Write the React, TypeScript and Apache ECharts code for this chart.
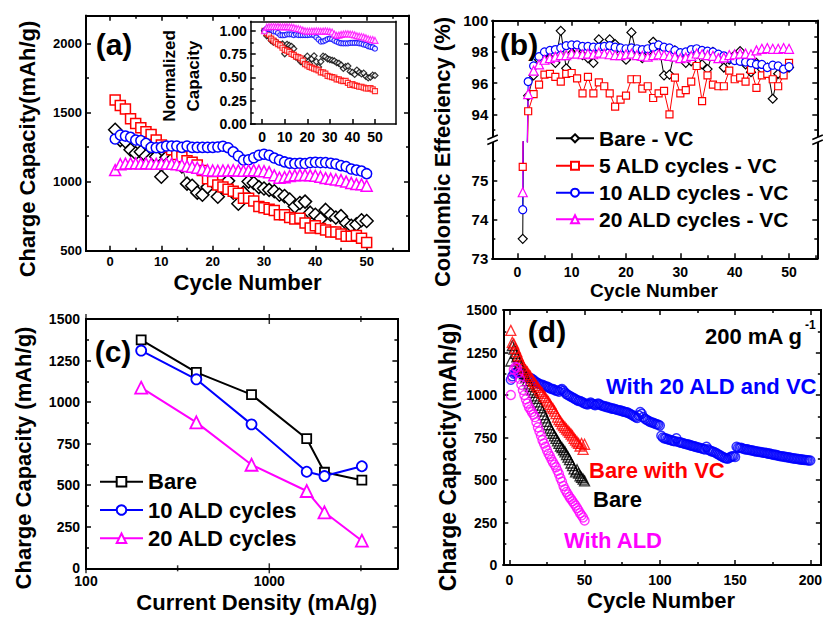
import React, { useEffect, useRef } from 'react';
import * as echarts from 'echarts';

const FONT = '"Liberation Sans", Arial, Helvetica, sans-serif';
const BLACK = '#000000';
const RED = '#ff0000';
const BLUE = '#0000ff';
const MAGENTA = '#ff00ff';

// ---------- Panel (a): charge capacity vs cycle ----------
const aCycles = Array.from({ length: 50 }, (_, i) => i + 1);
const aBare = [1375, 1300, 1290, 1230, 1205, 1215, 1185, 1165, 1180, 1035, 1175, 1160, 1145, 1110, 985, 970, 920, 905, 960, 1000, 890, 960, 1005, 920, 840, 920, 1000, 990, 960, 950, 940, 930, 905, 895, 870, 820, 845, 855, 775, 760, 730, 795, 760, 740, 750, 700, 680, 690, 720, 715];
const aALD5 = [1590, 1550, 1525, 1455, 1420, 1390, 1360, 1340, 1300, 1265, 1250, 1230, 1195, 1180, 1150, 1140, 1120, 1080, 1020, 1000, 975, 960, 945, 930, 915, 880, 880, 860, 820, 810, 800, 790, 760, 760, 740, 730, 735, 700, 665, 680, 660, 650, 635, 635, 620, 605, 605, 610, 590, 560];
const aALD10 = [1308, 1336, 1329, 1320, 1300, 1296, 1276, 1247, 1245, 1247, 1257, 1257, 1257, 1247, 1257, 1247, 1247, 1247, 1247, 1247, 1250, 1255, 1245, 1215, 1185, 1155, 1158, 1172, 1190, 1198, 1190, 1170, 1155, 1142, 1133, 1130, 1132, 1130, 1137, 1139, 1137, 1137, 1132, 1127, 1115, 1108, 1091, 1083, 1076, 1057];
const aALD20 = [1083, 1125, 1130, 1132, 1132, 1130, 1132, 1130, 1128, 1130, 1130, 1128, 1125, 1120, 1112, 1108, 1100, 1090, 1082, 1080, 1078, 1080, 1080, 1082, 1080, 1078, 1080, 1082, 1078, 1075, 1068, 1045, 1028, 1032, 1040, 1045, 1048, 1048, 1045, 1042, 1035, 1025, 1020, 1015, 1010, 1000, 990, 982, 980, 970];

// ---------- Panel (b): coulombic efficiency ----------
const bCycles = Array.from({ length: 50 }, (_, i) => i + 1);
const bBare = [73.5, 95.2, 96.5, 97.5, 97.9, 97.6, 97.3, 99.35, 96.95, 97.9, 98.2, 97.8, 97.6, 97.3, 98.8, 98.3, 98.8, 98.5, 97.9, 97.5, 99.25, 97.8, 97.6, 98.0, 98.65, 98.4, 96.5, 96.55, 98.1, 97.8, 97.3, 97.4, 97.9, 97.2, 96.9, 98.0, 97.7, 97.0, 97.5, 97.8, 98.05, 97.2, 96.7, 97.3, 96.9, 97.0, 95.0, 96.6, 96.8, 97.0];
const bALD5 = [75.35, 94.2, 95.3, 95.9, 96.55, 96.6, 96.4, 96.1, 96.6, 96.65, 96.3, 95.35, 96.4, 95.35, 96.05, 95.8, 95.35, 94.5, 94.95, 95.2, 96.25, 96.25, 95.65, 95.8, 95.05, 95.35, 95.5, 94.0, 96.35, 95.35, 95.55, 96.1, 97.1, 94.85, 96.5, 95.9, 95.8, 95.8, 96.8, 96.25, 96.35, 96.1, 96.85, 95.7, 96.5, 96.6, 96.25, 95.8, 96.5, 97.3];
const bALD10 = [74.25, 96.1, 97.1, 97.7, 98.0, 98.1, 98.15, 98.25, 98.4, 98.45, 98.45, 98.35, 98.35, 98.3, 98.3, 98.35, 98.4, 98.3, 98.25, 98.2, 98.25, 98.2, 98.15, 98.2, 98.3, 98.45, 98.3, 98.25, 98.1, 97.95, 98.0, 98.15, 98.2, 98.1, 98.05, 98.0, 97.85, 97.75, 97.6, 97.45, 97.4, 97.35, 97.3, 97.2, 97.2, 97.0, 97.15, 97.1, 96.9, 97.05];
const bALD20 = [74.7, 95.3, 96.8, 97.2, 97.5, 97.6, 97.7, 97.8, 97.8, 97.9, 97.9, 97.85, 97.9, 97.85, 97.95, 97.9, 97.85, 97.8, 97.8, 97.85, 97.9, 97.8, 97.75, 97.7, 97.8, 97.85, 97.8, 97.75, 97.7, 97.6, 97.65, 97.75, 97.9, 97.85, 97.8, 97.75, 97.6, 97.65, 97.8, 97.85, 97.9, 97.9, 97.85, 98.1, 98.2, 98.25, 98.2, 98.2, 98.25, 98.2];

// ---------- Panel (c): rate capability ----------
const cDensity = [200, 400, 800, 1600, 2000, 3200];
const cBare = [1374, 1179, 1045, 780, 578, 530];
const cALD10 = [1310, 1137, 866, 581, 555, 614];
const cALD20 = [1087, 878, 623, 465, 337, 166];
// decade tick labels of the log axis and half-decade minor ticks
const cDecadeLabels = ['100', '1000'];
const cDecades = [100, 1000];
const cHalfDecades = [316.2, 3162];

// ---------- Panel (d): long cycling at 200 mA/g ----------
const dCycles50 = Array.from({ length: 50 }, (_, i) => i + 1);
const dCycles200 = Array.from({ length: 200 }, (_, i) => i + 1);
const dBare = [1200, 1290, 1270, 1245, 1225, 1205, 1185, 1165, 1145, 1125, 1105, 1085, 1065, 1050, 1030, 1015, 995, 980, 960, 940, 925, 905, 885, 865, 845, 825, 805, 790, 775, 760, 745, 730, 715, 700, 690, 678, 666, 650, 635, 620, 600, 585, 565, 548, 560, 540, 525, 515, 505, 495];
const dBareVC = [1380, 1310, 1300, 1275, 1255, 1230, 1210, 1190, 1170, 1155, 1145, 1135, 1120, 1110, 1095, 1080, 1070, 1055, 1045, 1030, 1020, 1010, 995, 985, 970, 960, 945, 930, 920, 905, 890, 870, 855, 845, 830, 820, 810, 800, 790, 780, 770, 760, 745, 735, 725, 715, 700, 715, 680, 710];
const dALD = [1000, 1100, 1150, 1165, 1160, 1130, 1095, 1060, 1030, 1000, 975, 950, 930, 915, 900, 885, 870, 840, 810, 785, 760, 735, 715, 695, 675, 655, 640, 620, 605, 590, 575, 555, 535, 510, 490, 465, 445, 430, 415, 400, 388, 375, 362, 350, 335, 320, 305, 292, 280, 262];
const dALDVC = [
  1090, 1110, 1125, 1130, 1135, 1140, 1130, 1125, 1120, 1115,
  1110, 1105, 1100, 1100, 1095, 1090, 1080, 1075, 1070, 1065,
  1060, 1060, 1055, 1050, 1050, 1045, 1040, 1035, 1035, 1030,
  1025, 1025, 1020, 1030, 1035, 1025, 1015, 1005, 1000, 995,
  990, 985, 980, 975, 970, 965, 965, 960, 955, 950,
  948, 945, 950, 955, 950, 945, 940, 945, 950, 945,
  940, 935, 935, 930, 930, 925, 925, 920, 920, 918,
  915, 912, 910, 908, 905, 902, 900, 898, 895, 890,
  885, 880, 875, 870, 865, 880, 900, 890, 870, 860,
  855, 850, 845, 840, 838, 835, 830, 828, 825, 820,
  760, 750, 745, 745, 740, 738, 735, 732, 730, 728,
  745, 725, 722, 720, 718, 715, 712, 710, 708, 705,
  702, 700, 698, 695, 693, 690, 688, 685, 682, 680,
  695, 680, 675, 670, 668, 665, 660, 655, 650, 645,
  640, 635, 630, 628, 625, 630, 635, 640, 640, 636,
  695, 690, 688, 690, 685, 682, 680, 680, 678, 675,
  675, 672, 670, 668, 668, 665, 665, 662, 660, 660,
  658, 655, 655, 652, 650, 648, 648, 645, 643, 640,
  640, 638, 636, 635, 633, 632, 630, 628, 627, 625,
  625, 623, 622, 620, 620, 618, 618, 616, 615, 615,
];

// tick sets
const ticks10 = [0, 10, 20, 30, 40, 50];
const ticks5 = [5, 15, 25, 35, 45, 55];
const cap250 = [0, 250, 500, 750, 1000, 1250, 1500];
const cap125 = [125, 375, 625, 875, 1125, 1375];

type SideSpec = {
  grid: number;
  pos: 'top' | 'bottom' | 'left' | 'right';
  min: number;
  max: number;
  type?: 'value' | 'log';
  majors?: number[];
  minors?: number[];
  labels?: number[];
  fmt?: (v: number) => string;
  fontSize?: number;
  margin?: number;
  line?: boolean;
  lineWidth?: number;
};

const txt = (text: string, x: number, y: number, size: number, opt: { rot?: boolean; fill?: string; align?: string; top?: boolean } = {}) => ({
  type: 'text',
  x,
  y,
  rotation: opt.rot ? Math.PI / 2 : 0,
  z: 100,
  zlevel: opt.top ? 2 : 0,
  silent: true,
  style: {
    text,
    fill: opt.fill || BLACK,
    fontSize: size,
    fontWeight: 'bold',
    fontFamily: FONT,
    font: `bold ${size}px ${FONT}`,
    textAlign: opt.align || 'center',
    align: opt.align || 'center',
    textVerticalAlign: 'middle',
    verticalAlign: 'middle',
  },
});

function buildOption() {
  const xAxes: any[] = [];
  const yAxes: any[] = [];
  const tickStyle = { color: BLACK, width: 1.5 };
  const plain = (v: number) => String(v);
  const side = (s: SideSpec) => {
    const isX = s.pos === 'top' || s.pos === 'bottom';
    const list = isX ? xAxes : yAxes;
    const base: any = {
      type: s.type || 'value',
      gridIndex: s.grid,
      position: s.pos,
      min: s.min,
      max: s.max,
      splitLine: { show: false },
      silent: true,
    };
    if (s.type === 'log') base.logBase = 10;
    const idx = list.length;
    const main: any = {
      ...base,
      axisLine: { show: s.line !== false, onZero: false, lineStyle: { color: BLACK, width: s.lineWidth ?? 2, cap: 'square' } },
      axisTick: { show: false },
      axisLabel: { show: false },
    };
    if (s.majors) {
      main.axisTick = { show: true, inside: true, length: 5, customValues: s.majors, lineStyle: tickStyle };
    }
    if (s.labels) {
      main.axisLabel = {
        show: true,
        margin: s.margin ?? 5,
        fontSize: s.fontSize ?? 14,
        fontWeight: 'bold',
        fontFamily: FONT,
        color: BLACK,
        formatter: s.fmt || plain,
        customValues: s.labels,
      };
    }
    list.push(main);
    if (s.minors) {
      list.push({
        ...base,
        axisLine: { show: false, onZero: false },
        axisLabel: { show: false },
        axisTick: { show: true, inside: true, length: 3, customValues: s.minors, lineStyle: tickStyle },
      });
    }
    return idx;
  };

  // (a) main
  const aX = side({ grid: 0, pos: 'bottom', min: -4.68, max: 58.25, majors: ticks10, minors: ticks5, labels: ticks10, fontSize: 13, margin: 4 });
  side({ grid: 0, pos: 'top', min: -4.68, max: 58.25, majors: ticks10, minors: ticks5 });
  const aY = side({ grid: 0, pos: 'left', min: 500, max: 2200, majors: [500, 1000, 1500, 2000], minors: [750, 1250, 1750], labels: [500, 1000, 1500, 2000], fontSize: 13, margin: 4 });
  side({ grid: 0, pos: 'right', min: 500, max: 2200, majors: [500, 1000, 1500, 2000], minors: [750, 1250, 1750] });
  // (a) inset
  const iX = side({ grid: 1, pos: 'bottom', min: -5.1, max: 59.2, majors: ticks10, labels: ticks10, fontSize: 14, margin: 6, lineWidth: 1.5 });
  side({ grid: 1, pos: 'top', min: -5.1, max: 59.2, lineWidth: 1.5 });
  const iY = side({ grid: 1, pos: 'left', min: 0, max: 1.1, majors: [0, 0.25, 0.5, 0.75, 1], minors: [0.125, 0.375, 0.625, 0.875], labels: [0, 0.25, 0.5, 0.75, 1], fmt: (v: number) => v.toFixed(2), fontSize: 14, margin: 4, lineWidth: 1.5 });
  side({ grid: 1, pos: 'right', min: 0, max: 1.1, lineWidth: 1.5 });
  // (b) upper
  const bXu = side({ grid: 2, pos: 'top', min: -4.6, max: 55.2, majors: ticks10, minors: ticks5 });
  const bYu = side({ grid: 2, pos: 'left', min: 92.25, max: 100, majors: [94, 96, 98, 100], minors: [93, 95, 97, 99], labels: [94, 96, 98, 100], fontSize: 15, margin: 4 });
  side({ grid: 2, pos: 'right', min: 92.25, max: 100, majors: [94, 96, 98, 100], minors: [93, 95, 97, 99] });
  // (b) lower
  const bXl = side({ grid: 3, pos: 'bottom', min: -4.6, max: 55.2, majors: ticks10, minors: ticks5, labels: ticks10, fontSize: 14, margin: 7 });
  const bYl = side({ grid: 3, pos: 'left', min: 73, max: 76, majors: [73, 74, 75], minors: [73.5, 74.5, 75.5], labels: [73, 74, 75], fontSize: 15, margin: 4 });
  side({ grid: 3, pos: 'right', min: 73, max: 76, majors: [73, 74, 75], minors: [73.5, 74.5, 75.5] });
  // (c): logarithmic x axis
  const cX = side({ grid: 4, pos: 'bottom', type: 'log', min: 100, max: 5000 });
  side({ grid: 4, pos: 'top', type: 'log', min: 100, max: 5000 });
  const cY = side({ grid: 4, pos: 'left', min: 0, max: 1500, majors: cap250, minors: cap125, labels: cap250, fontSize: 14, margin: 6 });
  side({ grid: 4, pos: 'right', min: 0, max: 1500, majors: cap250, minors: cap125 });
  // (d)
  const dMaj = [0, 50, 100, 150, 200];
  const dMin = [25, 75, 125, 175];
  const dX = side({ grid: 5, pos: 'bottom', min: -4, max: 207, majors: dMaj, minors: dMin, labels: dMaj, fontSize: 14, margin: 8 });
  side({ grid: 5, pos: 'top', min: -4, max: 207, majors: dMaj, minors: dMin });
  const dY = side({ grid: 5, pos: 'left', min: 0, max: 1500, majors: cap250, minors: cap125, labels: cap250, fontSize: 14, margin: 6 });
  side({ grid: 5, pos: 'right', min: 0, max: 1500, majors: cap250, minors: cap125 });

  const pts = (xs: number[], ys: number[]) => xs.map((x, i) => [x, ys[i]]);
  const norm = (ys: number[]) => ys.map((v) => v / ys[0]);

  const lineS = (name: string, xi: number, yi: number, data: any[], color: string, symbol: string, size: number, bw: number, lw: number) => ({
    type: 'line',
    name,
    xAxisIndex: xi,
    yAxisIndex: yi,
    data,
    symbol,
    symbolSize: size,
    showSymbol: true,
    clip: true,
    itemStyle: { color: '#ffffff', borderColor: color, borderWidth: bw },
    lineStyle: { color, width: lw },
    emphasis: { disabled: true },
    silent: true,
    z: 3,
  });
  const scatS = (name: string, xi: number, yi: number, data: any[], color: string, symbol: string, size: number, bw: number, fill = 'rgba(255,255,255,0)') => ({
    type: 'scatter',
    name,
    xAxisIndex: xi,
    yAxisIndex: yi,
    data,
    symbol,
    symbolSize: size,
    clip: true,
    itemStyle: { color: fill, borderColor: color, borderWidth: bw },
    emphasis: { disabled: true },
    silent: true,
    z: 3,
  });

  const series: any[] = [
    // (a)
    lineS('a Bare', aX, aY, pts(aCycles, aBare), BLACK, 'diamond', 13, 1.5, 0.8),
    lineS('a 5 ALD', aX, aY, pts(aCycles, aALD5), RED, 'rect', 10, 1.5, 0.8),
    lineS('a 10 ALD', aX, aY, pts(aCycles, aALD10), BLUE, 'circle', 10, 1.5, 0.8),
    lineS('a 20 ALD', aX, aY, pts(aCycles, aALD20), MAGENTA, 'triangle', 11, 1.5, 0.8),
    // inset
    scatS('i Bare', iX, iY, pts(aCycles, norm(aBare)), BLACK, 'diamond', 6, 1.2, '#fff'),
    scatS('i 5 ALD', iX, iY, pts(aCycles, norm(aALD5)), RED, 'rect', 5, 1.2, '#fff'),
    scatS('i 10 ALD', iX, iY, pts(aCycles, norm(aALD10)), BLUE, 'circle', 5, 1.2, '#fff'),
    scatS('i 20 ALD', iX, iY, pts(aCycles, norm(aALD20)), MAGENTA, 'triangle', 6, 1.2, '#fff'),
  ];
  const bSets: [string, number[], string, string, number][] = [
    ['Bare - VC', bBare, BLACK, 'diamond', 9],
    ['5 ALD cycles - VC', bALD5, RED, 'rect', 7],
    ['10 ALD cycles - VC', bALD10, BLUE, 'circle', 8],
    ['20 ALD cycles - VC', bALD20, MAGENTA, 'triangle', 9],
  ];
  bSets.forEach(([name, ys, color, sym, size]) => {
    series.push(lineS(name, bXu, bYu, pts(bCycles, ys), color, sym, size, 1.2, 1));
  });
  bSets.forEach(([name, ys, color, sym, size]) => {
    series.push(lineS(name, bXl, bYl, pts(bCycles, ys), color, sym, size, 1.2, 1));
  });
  series.push(
    lineS('Bare', cX, cY, pts(cDensity, cBare), BLACK, 'rect', 9, 1.8, 2),
    lineS('10 ALD cycles', cX, cY, pts(cDensity, cALD10), BLUE, 'circle', 10, 1.8, 2),
    lineS('20 ALD cycles', cX, cY, pts(cDensity, cALD20), MAGENTA, 'triangle', 12, 1.8, 2),
  );
  // decade / half-decade tick marks of panel (c), placed through the log axis
  const cTick = (v: number, atTop: boolean, len: number) => ({
    value: [v, atTop ? 1500 : 0],
    symbolSize: [1.5, len * 2],
  });
  series.push({
    type: 'scatter',
    name: 'c ticks',
    xAxisIndex: cX,
    yAxisIndex: cY,
    clip: false,
    symbol: 'rect',
    itemStyle: { color: BLACK },
    silent: true,
    z: 1,
    data: [
      ...cDecades.map((v) => cTick(v, false, 5)),
      ...cDecades.map((v) => cTick(v, true, 5)),
      ...cHalfDecades.map((v) => cTick(v, false, 3)),
      ...cHalfDecades.map((v) => cTick(v, true, 3)),
    ],
  });
  series.push(
    scatS('With 20 ALD and VC', dX, dY, pts(dCycles200, dALDVC), BLUE, 'circle', 9, 1.5),
    scatS('Bare (d)', dX, dY, pts(dCycles50, dBare), BLACK, 'triangle', 10, 1.3),
    scatS('Bare with VC', dX, dY, pts(dCycles50, dBareVC), RED, 'triangle', 10, 1.3),
    scatS('With ALD', dX, dY, pts(dCycles50, dALD), MAGENTA, 'circle', 9, 1.4),
  );

  const legText = (size: number) => ({ fontSize: size, fontWeight: 'bold', fontFamily: FONT, color: BLACK });
  const bLeg = (name: string, cy: number) => ({
    data: [name], orient: 'vertical', left: 555, top: cy - 10.5, itemWidth: 38, itemHeight: 10,
    padding: 0, itemGap: 0, selectedMode: false, textStyle: legText(21),
  });
  const cLeg = (name: string, cy: number) => ({
    data: [name], orient: 'vertical', left: 99, top: cy - 11, itemWidth: 43, itemHeight: 12,
    padding: 0, itemGap: 0, selectedMode: false, textStyle: legText(22),
  });

  const brk = (x: number, y: number) => [
    { type: 'polygon', z: 99, silent: true, shape: { points: [[x - 5, y], [x + 5.5, y - 4.5], [x + 5.5, y + 0.5], [x - 5, y + 5]] }, style: { fill: '#ffffff' } },
    { type: 'line', z: 100, silent: true, shape: { x1: x - 5, y1: y, x2: x + 5.5, y2: y - 4.5 }, style: { stroke: BLACK, lineWidth: 1.5 } },
    { type: 'line', z: 100, silent: true, shape: { x1: x - 5, y1: y + 5, x2: x + 5.5, y2: y + 0.5 }, style: { stroke: BLACK, lineWidth: 1.5 } },
  ];

  // panel (c) log-axis decade labels: 100 sits at the left frame, 1000 one decade (1/log10(50) of the width) further
  const cLeft = 86;
  const cWidth = 311.4;
  const cLabelY = 581;
  const cDecadeX = [cLeft, cLeft + cWidth / Math.log10(50)];

  const graphics: any[] = [
    txt('(a)', 114, 44, 30),
    txt('(b)', 519, 44, 30),
    txt('(c)', 113, 351, 30),
    txt('(d)', 547, 331, 30),
    txt('Cycle Number', 247.5, 282, 22),
    txt('Charge Capacity(mAh/g)', 27.5, 149, 22, { rot: true }),
    txt('Normalized', 169, 76, 17, { rot: true }),
    txt('Capacity', 193, 76, 17, { rot: true }),
    txt('Cycle Number', 654, 290, 19),
    txt('Coulombic Effeciency (%)', 442, 152, 22, { rot: true }),
    txt('Current Density (mA/g)', 256.7, 602, 22),
    txt('Charge Capacity (mAh/g)', 23.5, 458, 22, { rot: true }),
    txt('Cycle Number', 661, 600, 22),
    txt('Charge Capacity(mAh/g)', 447.5, 457, 23, { rot: true }),
    txt('200 mA g', 705, 336, 22, { align: 'left' }),
    txt('-1', 805, 325, 12, { align: 'left' }),
    txt('With 20 ALD and VC', 606, 386, 22, { align: 'left', fill: BLUE }),
    txt('Bare with VC', 589, 470, 22, { align: 'left', fill: RED }),
    txt('Bare', 593, 499, 22, { align: 'left' }),
    txt('With ALD', 564, 540, 22, { align: 'left', fill: MAGENTA }),
    ...cDecadeLabels.map((t, i) => txt(t, cDecadeX[i], cLabelY, 14, { top: true })),
    ...brk(492.3, 139.5),
    ...brk(817.3, 139.5),
  ];

  return {
    animation: false,
    backgroundColor: '#ffffff',
    grid: [
      { left: 86, top: 15.64, width: 323, height: 235.06, containLabel: false },
      { left: 250.7, top: 21.4, width: 145, height: 102.6, containLabel: false, show: true, backgroundColor: '#ffffff', borderWidth: 0 },
      { left: 492.3, top: 20.7, width: 325, height: 121, containLabel: false },
      { left: 492.3, top: 141.7, width: 325, height: 116.6, containLabel: false },
      { left: cLeft, top: 319, width: cWidth, height: 249.3, containLabel: false },
      { left: 503.3, top: 310, width: 324.2, height: 255, containLabel: false },
    ],
    xAxis: xAxes,
    yAxis: yAxes,
    legend: [
      bLeg('Bare - VC', 138.3),
      bLeg('5 ALD cycles - VC', 165.7),
      bLeg('10 ALD cycles - VC', 192.7),
      bLeg('20 ALD cycles - VC', 219.3),
      cLeg('Bare', 481.7),
      cLeg('10 ALD cycles', 510),
      cLeg('20 ALD cycles', 538.3),
    ],
    series,
    graphic: { elements: graphics },
  };
}

export default function App() {
  const ref = useRef<HTMLDivElement>(null);
  useEffect(() => {
    document.body.style.margin = '0';
    const chart = echarts.init(ref.current as HTMLDivElement, undefined, { renderer: 'svg' });
    chart.setOption(buildOption() as any);
    return () => {
      chart.dispose();
    };
  }, []);
  return <div ref={ref} style={{ width: 825, height: 617 }} />;
}
